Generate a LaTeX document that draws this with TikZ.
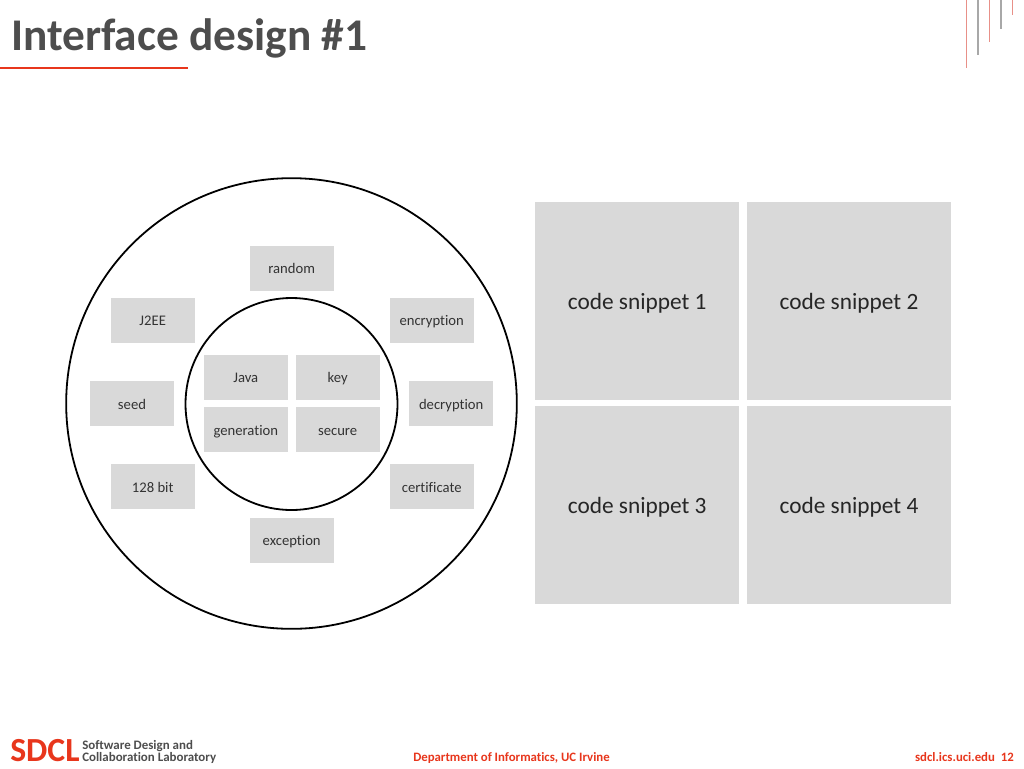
\documentclass[tikz,border=0pt]{standalone}
\usepackage{fontspec}
\setmainfont[Ligatures=NoCommon]{Carlito}
\definecolor{sdclred}{HTML}{E8361C}
\definecolor{titlegrey}{HTML}{4D4D4D}
\definecolor{boxgrey}{HTML}{D9D9D9}
\definecolor{deco}{HTML}{E89088}
\definecolor{decog}{HTML}{A8A8A8}
\tikzset{
  wordbox/.style={fill=boxgrey,minimum width=63pt,minimum height=33.75pt,inner sep=0pt},
  snippet/.style={fill=boxgrey,minimum width=153pt,minimum height=148.5pt,inner sep=0pt},
  snippettext/.style={anchor=base,inner sep=0pt,font=\fontsize{17.5}{21}\selectfont,text=black!85},
  wordtext/.style={anchor=base,inner sep=0pt,font=\fontsize{11}{13}\selectfont,text=black!80},
  ring/.style={draw=black,line width=1.35pt},
}
\newcommand{\wordat}[5]{\node[wordbox] (#1) at (#2,#3) {}; \node[wordtext] (#1t) at (#2,#3+#5) {#4};}
\newcommand{\snipat}[4]{\node[snippet] (#1) at (#2,#3) {}; \node[snippettext] (#1t) at (#2,#3+8) {#4};}
\begin{document}
\begin{tikzpicture}[x=0.75pt,y=-0.75pt]
\useasboundingbox (0,0) rectangle (1024,768);
\fill[white] (0,0) rectangle (1024,768);
% title
\node[anchor=base west,inner sep=0pt,font=\fontsize{34}{40}\selectfont\bfseries,text=titlegrey] (title) at (11,50) {Interface design \#1};
\draw[sdclred,line width=1.1pt] (0,68) -- (188,68);
% corner decoration
\draw[deco,line width=0.9pt] (966.5,0) -- (966.5,68);
\draw[decog,line width=0.9pt] (978,0) -- (978,55);
\draw[deco,line width=0.9pt] (989.5,0) -- (989.5,42);
\draw[decog,line width=0.9pt] (1001,0) -- (1001,29);
\draw[deco,line width=0.9pt] (1012.5,0) -- (1012.5,15);
% rings
\node[ring,circle,minimum size=338pt,inner sep=0pt] (outer) at (291.5,403.5) {};
\node[ring,circle,minimum size=159pt,inner sep=0pt] (inner) at (291.5,404) {};
% inner words
\wordat{java}{245.8}{377.5}{Java}{5}
\wordat{key}{337.6}{377.5}{key}{5}
\wordat{gen}{245.8}{429.3}{generation}{6}
\wordat{secure}{337.6}{429.3}{secure}{6}
% outer words
\wordat{random}{291.7}{268.2}{random}{5}
\wordat{jee}{152.7}{320.4}{J2EE}{5}
\wordat{encryption}{431.7}{320.4}{encryption}{5.5}
\wordat{seed}{132}{403.8}{seed}{5.5}
\wordat{decryption}{451.2}{403.8}{decryption}{5.5}
\wordat{bit}{152.7}{486.4}{128 bit}{6}
\wordat{certificate}{431.7}{486.4}{certificate}{6}
\wordat{exception}{291.7}{540.4}{exception}{5.5}
% snippets
\snipat{sa}{637.2}{301}{code snippet 1}
\snipat{sb}{849}{301}{code snippet 2}
\snipat{sc}{637.2}{505.3}{code snippet 3}
\snipat{sd}{849}{505.3}{code snippet 4}
% footer
\node[anchor=base west,inner sep=0pt,font=\fontsize{25.3}{30}\selectfont\bfseries,text=sdclred] (sdcl) at (10,761.7) {SDCL};
\node[anchor=base west,inner sep=0pt,align=left,font=\fontsize{9.7}{9.3}\selectfont\bfseries,text=titlegrey] (lab) at (82,761.7) {Software Design and\\Collaboration Laboratory};
\node[anchor=base,inner sep=0pt,font=\fontsize{9.6}{11}\selectfont\bfseries,text=sdclred] (dept) at (511.5,761) {Department of Informatics, UC Irvine};
\node[anchor=base east,inner sep=0pt,font=\fontsize{9.6}{11}\selectfont\bfseries,text=sdclred] (url) at (1014,761) {sdcl.ics.uci.edu\ \ 12};
\end{tikzpicture}
\end{document}
